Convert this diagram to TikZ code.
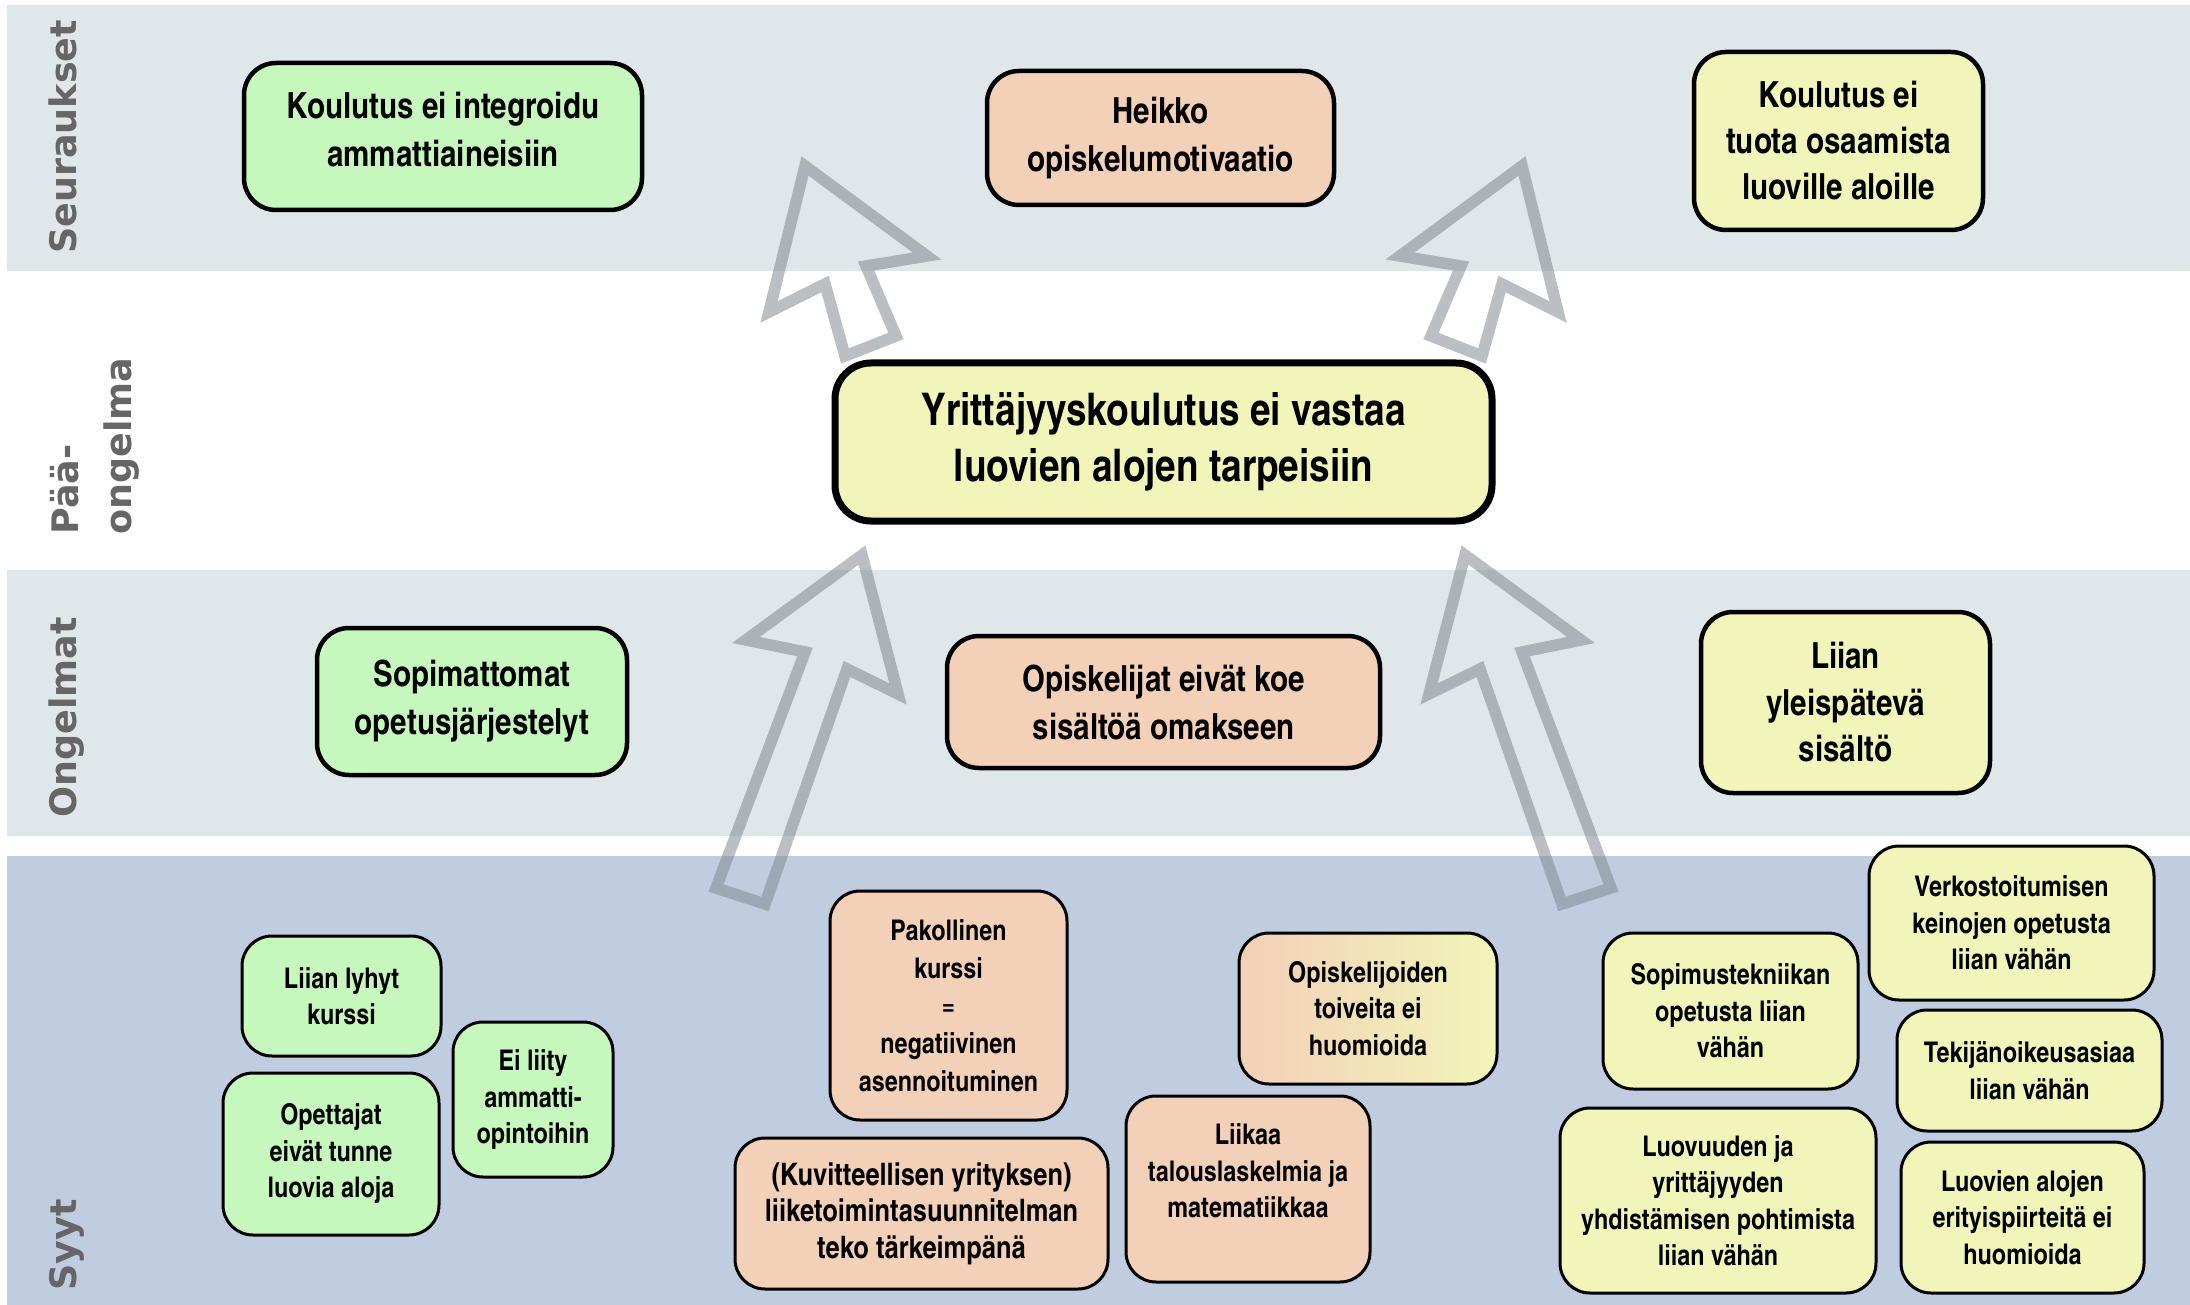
\documentclass[tikz,border=0pt]{standalone}
\usepackage{fontspec}
\newfontfamily\handfont{texgyreheroscn-bold.otf}
\newfontfamily\labelfont{DejaVu Sans}
\definecolor{bandA}{HTML}{DFE7EA}
\definecolor{bandB}{HTML}{C0CDE0}
\definecolor{cgreen}{HTML}{C6F8BD}
\definecolor{csalmon}{HTML}{F3D0B8}
\definecolor{cyellow}{HTML}{F1F5B9}
\definecolor{labelgray}{HTML}{666666}
\definecolor{arrowgray}{HTML}{7F8A90}
\tikzset{
  box/.style={draw=black, align=center, inner sep=0pt, text=black},
  bigbox/.style={box, line width=4.5pt, rounded corners=32pt, font=\handfont\fontsize{36}{48}\selectfont},
  mainbox/.style={box, line width=7pt, rounded corners=36pt, font=\handfont\fontsize{45}{56}\selectfont},
  smallbox/.style={box, line width=3pt, rounded corners=30pt, font=\handfont\fontsize{28.5}{36.5}\selectfont},
  lane/.style={rotate=90, anchor=north west, inner sep=0pt, align=left, text=labelgray, font=\labelfont\bfseries\fontsize{36.5}{53}\selectfont},
  hollow/.style={draw=arrowgray, draw opacity=0.55, line width=11.5pt, line join=miter},
}
\begin{document}
\begin{tikzpicture}[x=1pt, y=-1pt]
\useasboundingbox (0,0) rectangle (2190,1305);
% bands
\fill[bandA] (7,5) rectangle (2190,271);
\fill[bandA] (7,570) rectangle (2190,836);
\fill[bandB] (7,856) rectangle (2190,1305);
% lane labels
\node[lane] (lS) at (49,254) {Seuraukset};
\node[lane] (lP) at (50,535) {Pää-\\ongelma};
\node[lane] (lO) at (49,818) {Ongelmat};
\node[lane] (lY) at (49,1291) {Syyt};
% hollow arrows
\draw[hollow] (805,166) -- (927,256) -- (866,266) -- (896,336) -- (845,356) -- (825,284) -- (769,312) -- cycle;
\draw[hollow] (1522,166) -- (1400,256) -- (1461,266) -- (1431,336) -- (1482,356) -- (1502,284) -- (1558,312) -- cycle;
\draw[hollow] (862,555) -- (898,694) -- (847,669) -- (765,904) -- (716,888) -- (805,652) -- (746,640) -- cycle;
\draw[hollow] (1465,555) -- (1429,694) -- (1480,669) -- (1562,904) -- (1611,888) -- (1522,652) -- (1581,640) -- cycle;
% consequences
\node[bigbox, fill=cgreen, minimum width=398pt, minimum height=147pt] (k1) at (443,136.5) {Koulutus ei integroidu\\ammattiaineisiin\\[-34pt]\mbox{}};
\node[bigbox, fill=csalmon, minimum width=347pt, minimum height=134pt] (k2) at (1160.5,138) {Heikko\\opiskelumotivaatio};
\node[bigbox, fill=cyellow, minimum width=289pt, minimum height=178pt, font=\handfont\fontsize{36}{46}\selectfont] (k3) at (1838.5,141) {Koulutus ei\\tuota osaamista\\luoville aloille};
% main problem
\node[mainbox, fill=cyellow, minimum width=657pt, minimum height=158pt] (main) at (1163.5,442) {Yrittäjyyskoulutus ei vastaa\\luovien alojen tarpeisiin};
% problems
\node[bigbox, fill=cgreen, minimum width=310pt, minimum height=147pt] (o1) at (472,701.5) {Sopimattomat\\opetusjärjestelyt\\[-40pt]\mbox{}};
\node[bigbox, fill=csalmon, minimum width=433pt, minimum height=132pt] (o2) at (1163.5,702) {Opiskelijat eivät koe\\sisältöä omakseen};
\node[bigbox, fill=cyellow, minimum width=289pt, minimum height=181pt, font=\handfont\fontsize{36}{46.5}\selectfont] (o3) at (1845.5,702.5) {Liian\\yleispätevä\\sisältö};
% causes
\node[smallbox, fill=cgreen, minimum width=199pt, minimum height=120pt] (s1) at (341.5,996) {Liian lyhyt\\kurssi};
\node[smallbox, fill=cgreen, minimum width=216pt, minimum height=162pt] (s2) at (331,1154) {Opettajat\\eivät tunne\\luovia aloja};
\node[smallbox, fill=cgreen, minimum width=160pt, minimum height=155pt] (s3) at (533,1099.5) {Ei liity\\ammatti-\\opintoihin};
\node[smallbox, fill=csalmon, minimum width=237pt, minimum height=229pt, font=\handfont\fontsize{28.5}{37.7}\selectfont] (s4) at (948.5,1005.5) {Pakollinen\\kurssi\\=\\negatiivinen\\asennoituminen};
\node[smallbox, fill=csalmon, minimum width=373pt, minimum height=151pt, font=\handfont\fontsize{31}{36.5}\selectfont] (s5) at (921.5,1213.5) {(Kuvitteellisen yrityksen)\\liiketoimintasuunnitelman\\teko tärkeimpänä};
\node[smallbox, left color=csalmon, right color=cyellow, minimum width=258pt, minimum height=151pt] (s6) at (1368,1008.5) {Opiskelijoiden\\toiveita ei\\huomioida};
\node[smallbox, fill=csalmon, minimum width=244pt, minimum height=186pt] (s7) at (1248,1189) {Liikaa\\talouslaskelmia ja\\matematiikkaa\\[0pt]\mbox{}};
\node[smallbox, fill=cyellow, minimum width=255pt, minimum height=156pt] (s8) at (1730.5,1011) {Sopimustekniikan\\opetusta liian\\vähän};
\node[smallbox, fill=cyellow, minimum width=285pt, minimum height=154pt] (s9) at (2011.5,923) {Verkostoitumisen\\keinojen opetusta\\liian vähän};
\node[smallbox, fill=cyellow, minimum width=265pt, minimum height=121pt] (s10) at (2029.5,1070.5) {Tekijänoikeusasiaa\\liian vähän};
\node[smallbox, fill=cyellow, minimum width=316pt, minimum height=185pt] (s11) at (1718,1200.5) {Luovuuden ja\\yrittäjyyden\\yhdistämisen pohtimista\\liian vähän};
\node[smallbox, fill=cyellow, minimum width=243pt, minimum height=151pt] (s12) at (2022.5,1217.5) {Luovien alojen\\erityispiirteitä ei\\huomioida};
\end{tikzpicture}
\end{document}
